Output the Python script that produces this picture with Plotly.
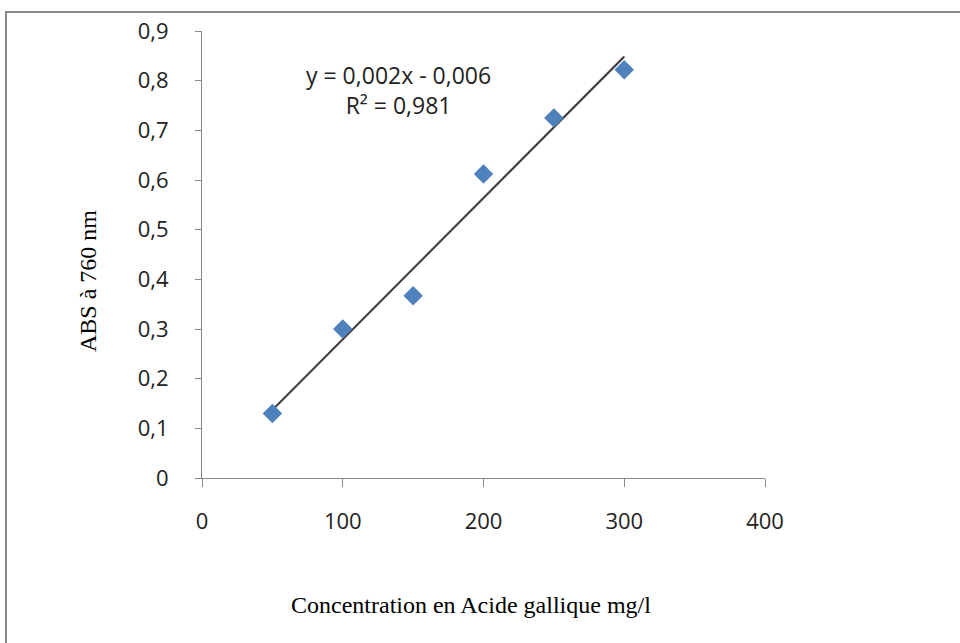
import numpy as np
import plotly.graph_objects as go

concentration = [50, 100, 150, 200, 250, 300]
absorbance = [0.13, 0.30, 0.367, 0.612, 0.725, 0.822]
x_ticks = [0, 100, 200, 300, 400]
y_ticks = [0, 0.1, 0.2, 0.3, 0.4, 0.5, 0.6, 0.7, 0.8, 0.9]

slope, intercept = np.polyfit(concentration, absorbance, 1)
fit_x = [min(concentration), max(concentration)]
fit_y = [slope * v + intercept for v in fit_x]

W, H = 960, 643
L, R, T, B = 202, 765, 31, 478

fig = go.Figure()
fig.add_trace(go.Scatter(x=fit_x, y=fit_y, mode="lines",
                         line=dict(color="#555555", width=2.2), hoverinfo="skip"))
fig.add_trace(go.Scatter(x=fit_x, y=fit_y, mode="lines",
                         line=dict(color="#222222", width=0.8), hoverinfo="skip"))
fig.add_trace(go.Scatter(x=concentration, y=absorbance, mode="markers",
                         marker=dict(symbol="diamond", size=15, color="#4F81BD",
                                     line=dict(width=0))))

tickfont = dict(family="Open Sans, Noto Sans, sans-serif", size=22, color="#222222")
fig.update_layout(
    width=W, height=H,
    margin=dict(l=L, r=W - R, t=T, b=H - B),
    paper_bgcolor="white", plot_bgcolor="white",
    showlegend=False,
    separators=", ",
    xaxis=dict(range=[0, 400], tickvals=x_ticks, showgrid=False, zeroline=False,
               showline=True, linecolor="#888888", linewidth=1,
               ticks="outside", ticklen=8, tickcolor="#888888",
               ticklabelstandoff=16, tickfont=tickfont),
    yaxis=dict(range=[0, 0.9], tickvals=y_ticks, showgrid=False, zeroline=False,
               showline=True, linecolor="#888888", linewidth=1,
               ticks="outside", ticklen=6, tickcolor="#888888",
               ticklabelstandoff=22, tickfont=tickfont),
)

def px(xp):
    return (xp - L) / (R - L)

def py(yp):
    return (B - yp) / (B - T)

fig.add_shape(type="rect", xref="paper", yref="paper",
              x0=px(6), x1=px(975), y0=py(12), y1=py(660),
              line=dict(color="#888888", width=2), fillcolor="rgba(0,0,0,0)")

fig.add_annotation(xref="paper", yref="paper", x=px(398), y=py(90),
                   xanchor="center", yanchor="middle",
                   text="y = 0,002x - 0,006<br>R² = 0,981", showarrow=False,
                   font=dict(family="Open Sans, Noto Sans, sans-serif", size=23, color="#222222"),
                   align="center")
fig.add_annotation(xref="paper", yref="paper", x=px(471), y=py(605),
                   xanchor="center", yanchor="middle",
                   text="Concentration en Acide gallique mg/l", showarrow=False,
                   font=dict(family="Liberation Serif, Times New Roman, serif", size=24, color="black"))
fig.add_annotation(xref="paper", yref="paper", x=px(88), y=py(281),
                   xanchor="center", yanchor="middle",
                   text="ABS à 760 nm", showarrow=False, textangle=-90,
                   font=dict(family="Liberation Serif, Times New Roman, serif", size=24, color="black"))

fig.write_html("out.html",
               config={"displayModeBar": False},
               post_script="document.body.style.margin='0';document.body.style.overflow='hidden';")
